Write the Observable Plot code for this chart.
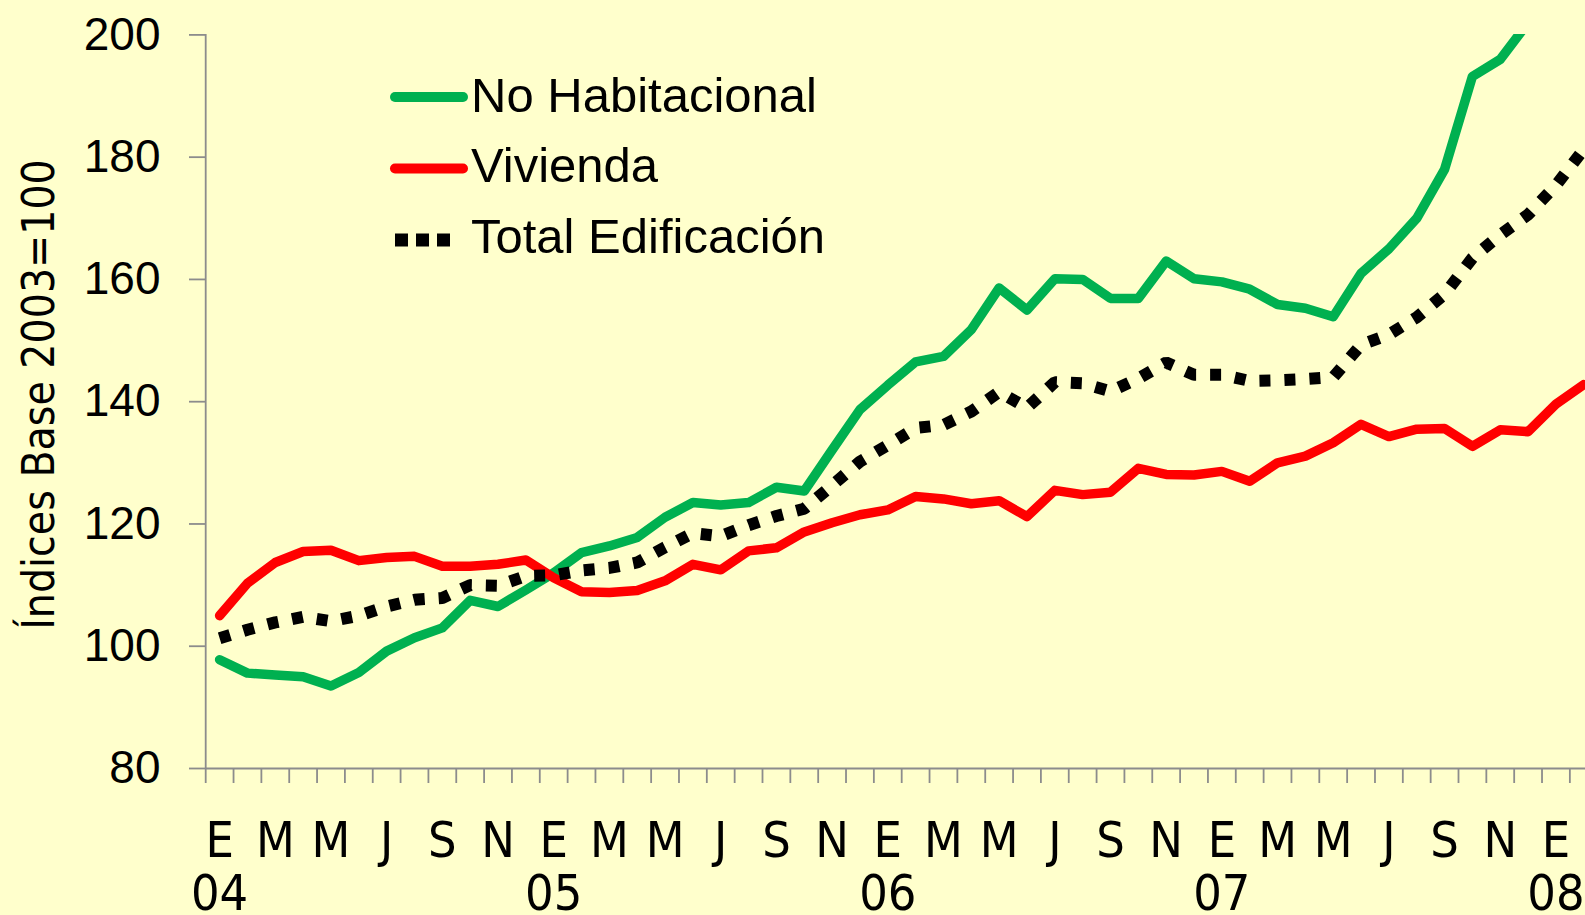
<!DOCTYPE html>
<html>
<head>
<meta charset="utf-8">
<script src="https://cdn.jsdelivr.net/npm/d3@7"></script>
<script src="https://cdn.jsdelivr.net/npm/@observablehq/plot@0.6"></script>
<style>
  html, body { margin: 0; padding: 0; background: #FFFFCC; overflow: hidden; }
  #wrap { position: relative; width: 1585px; height: 915px; }
  #legend { position: absolute; left: 0; top: 0; pointer-events: none; }
  svg { overflow: hidden; }
</style>
</head>
<body>
<div id="wrap"></div>
<script>
// ---- data (monthly, E-04 .. F-08) ----
const mesLetras = ["E","F","M","A","M","J","J","A","S","O","N","D"];
const anios = ["04","05","06","07","08"];
const periodos = d3.range(50).map(i => mesLetras[i % 12] + anios[Math.floor(i / 12)]);

const noHabitacional = [
  97.8, 95.6, 95.3, 95.0, 93.5, 95.7, 99.2, 101.4, 103.0, 107.5, 106.5, 109.2,
  112.0, 115.3, 116.4, 117.8, 121.1, 123.5, 123.1, 123.5, 126.0, 125.4, 132.1, 138.7,
  142.7, 146.5, 147.4, 151.8, 158.6, 155.0, 160.1, 160.0, 156.9, 156.9, 163.0, 160.1,
  159.6, 158.4, 155.9, 155.3, 153.9, 161.0, 165.0, 170.0, 178.0, 193.2, 196.0, 202.0,
  null, null
];
const vivienda = [
  105.0, 110.3, 113.7, 115.5, 115.7, 114.0, 114.5, 114.7, 113.1, 113.1, 113.4, 114.1,
  111.2, 108.9, 108.8, 109.1, 110.7, 113.4, 112.5, 115.6, 116.1, 118.7, 120.2, 121.5,
  122.3, 124.5, 124.1, 123.3, 123.8, 121.2, 125.5, 124.8, 125.2, 129.1, 128.1, 128.0,
  128.6, 127.0, 130.0, 131.1, 133.3, 136.3, 134.3, 135.5, 135.6, 132.7, 135.4, 135.1,
  139.6, 142.8
];
const totalEdificacion = [
  101.3, 102.7, 103.9, 104.8, 104.1, 105.0, 106.5, 107.6, 107.9, 110.0, 109.9, 111.5,
  111.6, 112.4, 112.8, 113.7, 116.2, 118.5, 118.0, 119.8, 121.3, 122.5, 126.3, 130.2,
  132.9, 135.7, 136.2, 138.4, 141.6, 139.0, 143.2, 143.0, 141.7, 143.8, 146.4, 144.4,
  144.4, 143.4, 143.5, 143.7, 144.0, 149.3, 151.0, 153.8, 157.6, 163.5, 167.3, 170.6,
  175.4, 181.3
];
const yTicks = [80, 100, 120, 140, 160, 180, 200];
const series = ["No Habitacional", "Vivienda", "Total Edificación"];
const colores = ["#00B050", "#FF0000", "#000000"];
const yTitulo = "Índices Base 2003=100";

// ---- chart ----
const AXIS = "#8c8c8c";
const COND = "'DejaVu Sans Condensed', 'Liberation Sans Narrow', sans-serif";
const boundaries = d3.range(51).map(i => i - 0.5);
const monthTicks = d3.range(0, 50, 2);
const yearTicks = [0, 12, 24, 36, 48];

const chart = Plot.plot({
  width: 1585,
  height: 915,
  marginLeft: 205,
  marginRight: 0,
  marginTop: 34,
  marginBottom: 147,
  style: { background: "transparent", overflow: "hidden" },
  x: { type: "linear", domain: [-0.5, 49.5], range: [205.2, 1597.2] },
  y: { domain: [80, 200], range: [768, 34.4] },
  marks: [
    Plot.ruleY([80], { stroke: AXIS, strokeWidth: 1.8 }),
    Plot.ruleX([-0.5], { stroke: AXIS, strokeWidth: 1.8 }),
    Plot.axisY({
      ticks: yTicks, tickSize: 16, tickPadding: 29, label: null,
      stroke: AXIS, strokeWidth: 1.8, strokeOpacity: 1, fill: "black",
      fontSize: 46, fontFamily: "'Liberation Sans', Arial, sans-serif"
    }),
    Plot.axisX({
      ticks: boundaries, tickSize: 15, tickFormat: () => "", label: null,
      stroke: AXIS, strokeWidth: 1.8, strokeOpacity: 1
    }),
    Plot.axisX({
      ticks: monthTicks, tickSize: 0, tickPadding: 53, label: null,
      tickFormat: i => mesLetras[i % 12], fill: "black",
      fontSize: 50, fontFamily: COND
    }),
    Plot.axisX({
      ticks: yearTicks, tickSize: 0, tickPadding: 106, label: null,
      tickFormat: i => anios[i / 12], fill: "black",
      fontSize: 50, fontFamily: COND
    }),
    Plot.text([yTitulo], {
      frameAnchor: "left", rotate: -90, dx: -166, dy: -7,
      textAnchor: "middle", lineAnchor: "middle",
      text: d => d, fill: "black", fontSize: 44, fontFamily: COND
    }),
    Plot.line(noHabitacional, {
      x: (d, i) => i, y: d => d, stroke: colores[0], strokeWidth: 9.5,
      strokeLinejoin: "round", strokeLinecap: "round", clip: true
    }),
    Plot.line(vivienda, {
      x: (d, i) => i, y: d => d, stroke: colores[1], strokeWidth: 9.5,
      strokeLinejoin: "round", strokeLinecap: "round", clip: true
    }),
    Plot.line(totalEdificacion, {
      x: (d, i) => i, y: d => d, stroke: colores[2], strokeWidth: 12,
      strokeDasharray: "11,14", strokeLinecap: "butt", strokeLinejoin: "bevel", clip: true
    })
  ]
});

const wrap = document.getElementById("wrap");
wrap.appendChild(chart);

// ---- legend overlay (inside plot area, top-left) ----
const ns = "http://www.w3.org/2000/svg";
const leg = document.createElementNS(ns, "svg");
leg.setAttribute("id", "legend");
leg.setAttribute("width", 900);
leg.setAttribute("height", 280);
const rows = [
  { y: 97, base: 111.7 },
  { y: 168.5, base: 181.7 },
  { y: 240, base: 253.3 }
];
series.forEach((name, k) => {
  const r = rows[k];
  const ln = document.createElementNS(ns, "line");
  ln.setAttribute("x1", 395);
  ln.setAttribute("x2", k === 2 ? 452 : 463);
  ln.setAttribute("y1", r.y);
  ln.setAttribute("y2", r.y);
  ln.setAttribute("stroke", colores[k]);
  if (k === 2) {
    ln.setAttribute("stroke-width", 13);
    ln.setAttribute("stroke-dasharray", "13,8");
  } else {
    ln.setAttribute("stroke-width", 10);
    ln.setAttribute("stroke-linecap", "round");
  }
  leg.appendChild(ln);
  const tx = document.createElementNS(ns, "text");
  tx.setAttribute("x", 471);
  tx.setAttribute("y", r.base);
  tx.setAttribute("font-family", "'Liberation Sans', Arial, sans-serif");
  tx.setAttribute("font-size", 49);
  tx.setAttribute("fill", "black");
  tx.textContent = name;
  leg.appendChild(tx);
});
wrap.appendChild(leg);
</script>
</body>
</html>
